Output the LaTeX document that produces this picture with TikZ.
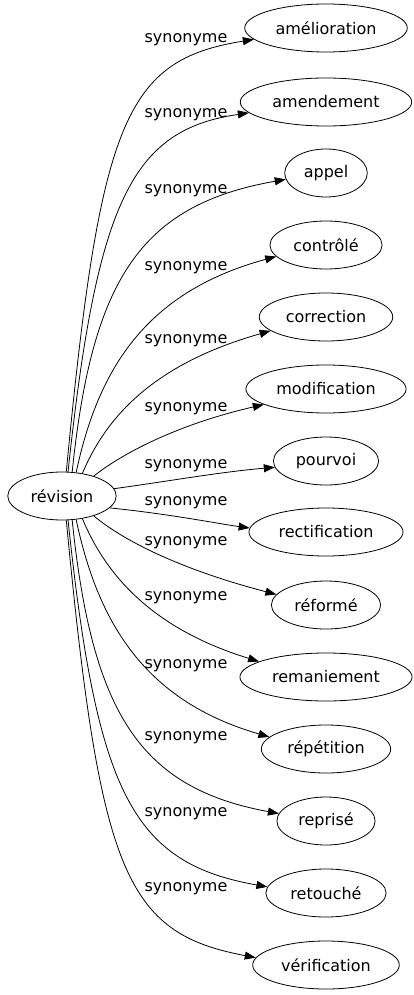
\documentclass[tikz,border=0pt]{standalone}
\usepackage{fontspec}
\setmainfont{DejaVu Sans}
\usetikzlibrary{shapes.geometric,arrows.meta}

\begin{document}
\begin{tikzpicture}[x=1pt,y=-1pt,
  word/.style={draw,ellipse,line width=0.8pt,inner xsep=7pt,inner ysep=0pt,minimum height=48pt,font=\fontsize{16}{19}\selectfont},
  syn/.style={->,>={Triangle[length=11pt,width=8pt]},line width=0.8pt},
  synlabel/.style={inner sep=0pt,font=\fontsize{16}{19}\selectfont}]
\useasboundingbox (0,0) rectangle (413,995);
\node[word] (revision) at (62,496) {révision};
\foreach \name/\txt/\y in {amel/amélioration/28,amen/amendement/102,appel/appel/173,contr/contrôlé/245,corr/correction/317,modif/modification/389,pourv/pourvoi/461,rect/rectification/532,reform/réformé/605,reman/remaniement/677,repet/répétition/749,repr/reprisé/821,retou/retouché/893,verif/vérification/965}
  \node[word] (\name) at (326,\y) {\txt};
\foreach \name/\sa/\ax/\ay/\bx/\by/\ea/\ly in {amel/80/100/120/125/60/189/40,amen/76/97/200/132/130/188/115,appel/67/92/280/140/205/189/191,contr/59/98/370/145/292/193/268,corr/48/105/420/150/365/194/341,modif/32/120/455/175/425/194/409,pourv/8/170/481/220/472/187/466,rect/346/170/514/220/524/177/503,reform/328/120/538/175/568/168/543,reman/312/105/573/150/628/167/598,repet/301/98/623/145/701/168/666,repr/293/92/713/140/788/171/738,retou/284/97/793/132/863/174/814,verif/280/100/873/125/933/174/889}
{
  \draw[syn] (revision.\sa) .. controls (\ax,\ay) and (\bx,\by) .. (\name.\ea);
  \node[synlabel] at (186,\ly) {synonyme};
}
\end{tikzpicture}
\end{document}
